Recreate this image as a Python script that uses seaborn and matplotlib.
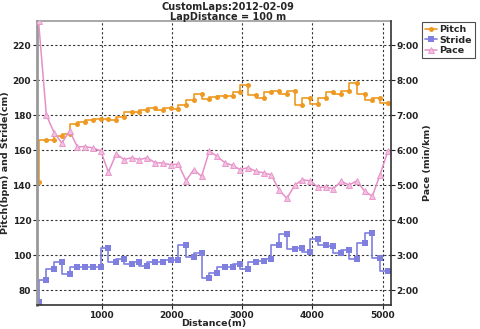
import numpy as np
import pandas as pd
import matplotlib
matplotlib.use("Agg")
import matplotlib.pyplot as plt
from matplotlib.ticker import FixedLocator, FuncFormatter
from matplotlib.lines import Line2D
import seaborn as sns

# ---- data ----
distance_m = [101, 212, 322, 433, 543, 654, 764, 875, 985, 1096,
              1206, 1317, 1427, 1538, 1648, 1759, 1869, 1980, 2090, 2201,
              2311, 2422, 2532, 2643, 2753, 2864, 2974, 3085, 3195, 3306,
              3416, 3527, 3637, 3748, 3858, 3969, 4079, 4190, 4300, 4411,
              4521, 4632, 4742, 4853, 4963, 5074]
pitch_bpm = [142, 166, 166, 168, 169, 175, 176, 177, 178, 178,
             177, 179, 181.5, 182, 183, 184, 183, 184, 183.5, 186,
             188.5, 191.8, 189, 190.5, 191, 191, 193, 197, 191.5, 190,
             193, 194, 192, 194, 186, 190, 186.3, 190, 193, 192,
             194, 198.3, 192, 188.4, 190, 187]
stride_cm = [73, 85.7, 92, 96, 89, 93, 93, 93, 93, 104,
             96, 98, 95, 96, 94, 96, 96, 97, 97, 106,
             99, 101, 87, 90, 93, 93, 95, 92, 96, 96.7,
             98, 105.6, 112, 103.2, 103.8, 101.8, 109, 105.6, 105, 101.3,
             102.8, 98, 107, 112.7, 98.6, 91]
pace_min_km = [9.68, 7.00, 6.50, 6.20, 6.55, 6.09, 6.10, 6.06, 5.98, 5.37,
               5.89, 5.73, 5.78, 5.73, 5.78, 5.64, 5.63, 5.58, 5.60, 5.13,
               5.44, 5.25, 5.97, 5.82, 5.64, 5.56, 5.44, 5.50, 5.39, 5.35,
               5.29, 4.85, 4.62, 5.00, 5.15, 5.12, 4.94, 4.94, 4.90, 5.11,
               5.00, 5.12, 4.83, 4.68, 5.30, 5.96]

x_ticks = [1000, 2000, 3000, 4000, 5000]
left_ticks = [80, 100, 120, 140, 160, 180, 200, 220]
right_ticks = [2, 3, 4, 5, 6, 7, 8, 9]
title_lines = ["CustomLaps:2012-02-09", "LapDistance = 100 m"]

df = pd.DataFrame({"Distance": distance_m, "Pitch": pitch_bpm,
                   "Stride": stride_cm, "Pace": pace_min_km})

sns.set_theme(style="white")
plt.rcParams["font.family"] = ["DejaVu Sans"]
plt.rcParams["font.weight"] = "bold"

FS = 6.5
c_pitch = "#EE9A22"
c_stride = "#7F7FE0"
c_pace = "#E690C8"

fig = plt.figure(figsize=(4.8, 3.29), dpi=100)
ax = fig.add_axes([0.0765, 0.073, 0.7375, 0.863])
ax2 = ax.twinx()

sns.lineplot(data=df, x="Distance", y="Pitch", ax=ax, color=c_pitch,
             marker="o", markersize=3.6, markeredgewidth=0,
             drawstyle="steps-pre", linewidth=1.2)
sns.lineplot(data=df, x="Distance", y="Stride", ax=ax, color=c_stride,
             marker="s", markersize=4.3, markeredgewidth=0,
             drawstyle="steps-pre", linewidth=1.2)
sns.lineplot(data=df, x="Distance", y="Pace", ax=ax2, color=c_pace,
             marker="^", markersize=3.8, markeredgewidth=0.6,
             markerfacecolor="#F4C0E0", markeredgecolor=c_pace,
             linewidth=1.1)

ax.set_xlim(75, 5115)
ax.set_ylim(71.5, 233.7)
ax2.set_ylim(1.575, 9.685)

ax.xaxis.set_major_locator(FixedLocator(x_ticks))
ax.yaxis.set_major_locator(FixedLocator(left_ticks))
ax2.yaxis.set_major_locator(FixedLocator(right_ticks))
ax2.yaxis.set_major_formatter(FuncFormatter(lambda v, p: f"{int(v)}:00"))

ax.grid(True, linestyle=(0, (2, 2)), color="#333333", linewidth=0.8)
ax2.grid(False)

for a in (ax, ax2):
    a.tick_params(axis="both", labelsize=FS, length=3, width=0.8,
                  direction="out", pad=1, colors="#222222")
ax.tick_params(axis="x", pad=1.5)
ax.tick_params(left=True, bottom=True)
ax2.tick_params(right=True)

for s in ("left", "top"):
    ax.spines[s].set_color("#999999")
ax.spines["left"].set_linewidth(2)
ax.spines["top"].set_linewidth(1.2)
ax.spines["bottom"].set_color("#333333")
ax.spines["bottom"].set_linewidth(1.2)
ax.spines["right"].set_visible(False)
ax2.spines["right"].set_color("#333333")
ax2.spines["right"].set_linewidth(1.2)
ax2.spines["left"].set_visible(False)
ax2.spines["top"].set_visible(False)
ax2.spines["bottom"].set_visible(False)

ax.set_xlabel("Distance(m)", fontsize=FS + 0.3, fontweight="bold", labelpad=-1)
ax.set_ylabel("Pitch(bpm) and Stride(cm)", fontsize=FS + 0.3, fontweight="bold", labelpad=2)
ax2.set_ylabel("Pace (min/km)", fontsize=FS + 0.3, fontweight="bold", labelpad=3)

fig.text(0.475, 0.993, title_lines[0], ha="center", va="top", fontsize=FS + 0.5, fontweight="bold")
fig.text(0.475, 0.963, title_lines[1], ha="center", va="top", fontsize=FS + 0.5, fontweight="bold")

handles = [
    Line2D([], [], color=c_pitch, marker="o", markersize=3.6, markeredgewidth=0, lw=1.2),
    Line2D([], [], color=c_stride, marker="s", markersize=4.3, markeredgewidth=0, lw=1.2),
    Line2D([], [], color=c_pace, marker="^", markersize=3.8, markerfacecolor="#F4C0E0",
           markeredgewidth=0.6, lw=1.1),
]
leg = fig.legend(handles, ["Pitch", "Stride", "Pace"], loc="upper left",
                 bbox_to_anchor=(0.88, 0.932), fontsize=FS + 0.3, frameon=True,
                 fancybox=False, edgecolor="#222222", handlelength=1.2,
                 handletextpad=0.3, borderpad=0.3, labelspacing=0.15,
                 borderaxespad=0)
leg.get_frame().set_linewidth(0.8)
for t in leg.get_texts():
    t.set_fontweight("bold")

fig.savefig("out.png", dpi=100)
